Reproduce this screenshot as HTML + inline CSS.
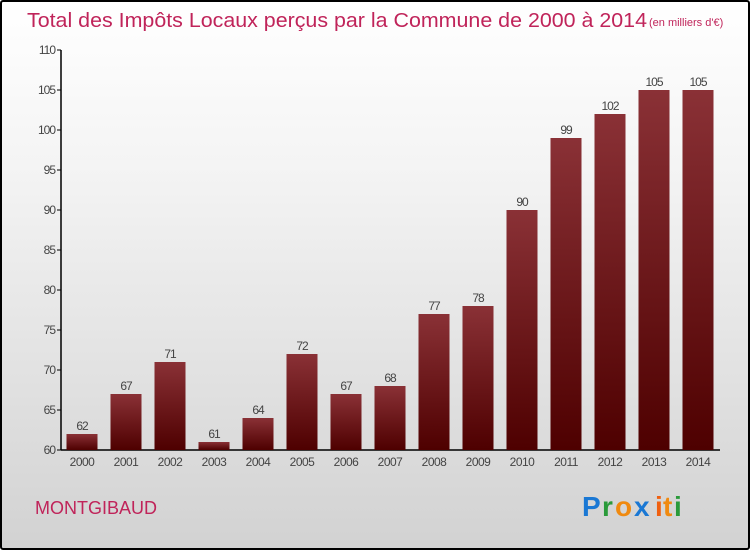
<!DOCTYPE html>
<html><head><meta charset="utf-8"><style>
html,body{margin:0;padding:0;}
body{width:750px;height:550px;overflow:hidden;font-family:"Liberation Sans",sans-serif;}
#frame{position:absolute;left:0;top:0;width:746px;height:546px;border:2px solid #000;border-radius:3px;background:linear-gradient(#ffffff,#f4f4f4 30%,#d2d2d2);}
</style></head><body>
<div id="frame">
<svg id="chart" width="750" height="550" style="position:absolute;left:-2px;top:-2px">
<defs><linearGradient id="bg" x1="0" y1="0" x2="0" y2="1"><stop offset="0" stop-color="#8a3136"/><stop offset="1" stop-color="#4e0000"/></linearGradient></defs>
<text x="27" y="27" font-size="20" fill="#c0245a" textLength="620" lengthAdjust="spacingAndGlyphs">Total des Impôts Locaux perçus par la Commune de 2000 à 2014</text>
<text x="649" y="26" font-size="11" fill="#c0245a">(en milliers d'€)</text>
<text x="35" y="514" font-size="18" fill="#c0245a">MONTGIBAUD</text>
<g font-size="28" font-weight="bold" font-family="'Liberation Sans',sans-serif">
<text x="582" y="516" fill="#1a78d4">P</text><text x="602" y="516" fill="#2a9a3a">r</text><text x="615" y="516" fill="#f08a10">o</text><text x="634" y="516" fill="#1a78d4">x</text><text x="655" y="516" fill="#f06010">i</text><text x="663" y="516" fill="#f08a10">t</text><text x="674" y="516" fill="#2a9a3a">i</text></g>
<g id="plot"></g>
</svg></div>
<script>
const years=["2000","2001","2002","2003","2004","2005","2006","2007","2008","2009","2010","2011","2012","2013","2014"];
const values=[62,67,71,61,64,72,67,68,77,78,90,99,102,105,105];
const yTicks=[60,65,70,75,80,85,90,95,100,105,110];
const NS="http://www.w3.org/2000/svg";
const g=document.getElementById('plot');
const y=v=>450-(v-60)*8;
const xc=i=>82+i*44;
function el(t,a){const e=document.createElementNS(NS,t);for(const k in a)e.setAttribute(k,a[k]);g.appendChild(e);return e;}
const ax=el('line',{x1:61,y1:50,x2:61,y2:450,stroke:'#000','stroke-width':1.5});


const bx=el('line',{x1:61,y1:450,x2:720,y2:450,stroke:'#000','stroke-width':1.5});


yTicks.forEach(v=>{
 const t=el('line',{x1:57,x2:61,y1:y(v),y2:y(v),stroke:'#000'});
 
 
 const l=el('text',{x:55,y:y(v)+4,'font-size':12,fill:'#444','text-anchor':'end','letter-spacing':'-1'});
 l.textContent=v;
 
 
});
years.forEach((yr,i)=>{
 const v=values[i];
 const r=el('rect',{x:xc(i)-15.5,y:y(v),width:31,height:450-y(v),fill:'url(#bg)'});
 
 
 const vl=el('text',{x:xc(i),y:y(v)-4,'font-size':12,fill:'#444','text-anchor':'middle','letter-spacing':'-1'});
 vl.textContent=v;
 
 
 const xl=el('text',{x:xc(i),y:466,'font-size':12,fill:'#444','text-anchor':'middle','letter-spacing':'-0.5'});
 xl.textContent=yr;
 
 
});
</script>
</body></html>
